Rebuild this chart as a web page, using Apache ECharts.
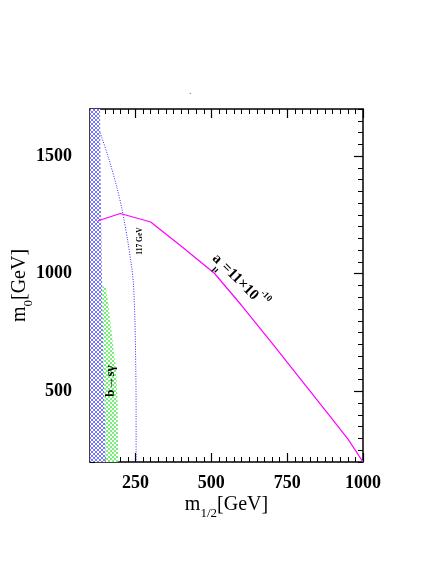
<!DOCTYPE html>
<html>
<head>
<meta charset="utf-8">
<script src="https://cdn.jsdelivr.net/npm/echarts@6/dist/echarts.min.js"></script>
<style>html,body{margin:0;padding:0;background:#fff}#c{width:436px;height:564px}</style>
</head>
<body>
<div id="c"></div>
<script>
// ---- data ----
const xRange = [100, 1000];
const yRange = [200, 1700];
const xMajor = [250, 500, 750, 1000];
const yMajor = [500, 1000, 1500];
// excluded region (blue hatched): right edge of band starting at m1/2 = 100
const blueEdge = [[133,1700],[136,1300],[140,950],[145,600],[150,350],[152,200]];
// b -> s gamma excluded region (green): right edge
const greenEdge = [[140,948],[152,942],[160,876],[173,731],[186,591],[191,450],[193,200]];
const greenLeft = [[152,200],[150,350],[145,600]];
// m_h = 117 GeV contour (dotted blue)
const higgs = [[108,1700],[122,1640],[140,1575],[160,1497],[188,1370],[206,1271],[224,1143],[237,1030],[243,961],[248,803],[251,591],[252,400],[252,200]];
// a_mu = 11e-10 contour (magenta)
const amu = [[127,1225],[200,1256],[300,1220],[400,1118],[510,1002],[600,865],[700,705],[800,543],[900,380],[950,298],[1000,200]];
// annotations
const noteText = ['117 GeV', '{b|b→sγ}', '{m|a}{s|μ}{m|=11×10}{p|-10}'];
const notePos = [[265,1139],[169,544],[593,968]];

// ---- patterns ----
function makeTile(size, fn){const c=document.createElement('canvas');c.width=c.height=size;const g=c.getContext('2d');g.fillStyle='#ffffff';g.fillRect(0,0,size,size);fn(g);return c;}
const blueTile = makeTile(4, g=>{g.fillStyle='#7878fa';for(let i=0;i<4;i++){g.fillRect(i,i,1,1);g.fillRect(i,3-i,1,1);}});
const greenTile = makeTile(4, g=>{g.fillStyle='#78f078';g.fillRect(0,0,2,2);g.fillRect(2,2,2,2);});

const bluePoly = [[xRange[0],yRange[0]],[xRange[0],yRange[1]]].concat(blueEdge);
const greenPoly = greenEdge.concat(greenLeft);

const FONT = 'Liberation Serif';
const plain = v => String(v);
function polySeries(name, poly, tile){
  return {type:'custom', name, data:[[poly[0][0],poly[0][1]]], clip:true, z:3,
    renderItem:(p,api)=>({type:'polygon', shape:{points:poly.map(q=>api.coord(q))}, style:{fill:{image:tile, repeat:'repeat'}}})};
}
const axCommon = {type:'value', splitLine:{show:false}};
const chart = echarts.init(document.getElementById('c'), null, {renderer:'canvas'});
chart.setOption({
  animation:false,
  backgroundColor:'#fff',
  grid:{left:90, right:73, top:109, bottom:102, containLabel:false, outerBoundsMode:'none'},
  xAxis:[
    Object.assign({}, axCommon, {min:xRange[0], max:xRange[1], interval:25, position:'bottom',
      axisLine:{lineStyle:{color:'#000', width:1.5}}, axisTick:{inside:true, length:5, lineStyle:{color:'#000', width:1}},
      axisLabel:{show:false},
      name:'{m|m}{s|1/2}{m|[GeV]}', nameLocation:'middle', nameGap:28,
      nameTextStyle:{rich:{m:{fontFamily:FONT, fontSize:20, color:'#000', lineHeight:30, verticalAlign:'middle'}, s:{fontFamily:FONT, fontSize:13, color:'#000', lineHeight:18, verticalAlign:'bottom'}}}}),
    Object.assign({}, axCommon, {min:xRange[0], max:xRange[1], position:'bottom',
      axisLine:{show:false}, axisTick:{inside:true, length:9, customValues:xMajor, lineStyle:{color:'#000', width:1.2}},
      axisLabel:{customValues:xMajor, formatter:plain, margin:12, fontFamily:FONT, fontWeight:'bold', fontSize:18, color:'#000'}}),
    Object.assign({}, axCommon, {min:xRange[0], max:xRange[1], interval:25, position:'top',
      axisLine:{lineStyle:{color:'#000', width:1.5}}, axisTick:{inside:true, length:5, lineStyle:{color:'#000', width:1}}, axisLabel:{show:false}}),
    Object.assign({}, axCommon, {min:xRange[0], max:xRange[1], position:'top',
      axisLine:{show:false}, axisTick:{inside:true, length:9, customValues:xMajor, lineStyle:{color:'#000', width:1.2}}, axisLabel:{show:false}})
  ],
  yAxis:[
    Object.assign({}, axCommon, {min:yRange[0], max:yRange[1], interval:50, position:'left',
      axisLine:{lineStyle:{color:'#000', width:1.5}}, axisTick:{inside:true, length:5, lineStyle:{color:'#000', width:1}},
      axisLabel:{show:false},
      name:'{m|m}{s|0}{m|[GeV]}', nameLocation:'middle', nameGap:55, nameRotate:90,
      nameTextStyle:{rich:{m:{fontFamily:FONT, fontSize:20, color:'#000', lineHeight:30, verticalAlign:'middle'}, s:{fontFamily:FONT, fontSize:13, color:'#000', lineHeight:18, verticalAlign:'bottom'}}}}),
    Object.assign({}, axCommon, {min:yRange[0], max:yRange[1], position:'left',
      axisLine:{show:false}, axisTick:{inside:true, length:9, customValues:yMajor, lineStyle:{color:'#000', width:1.2}},
      axisLabel:{customValues:yMajor, formatter:plain, margin:18, fontFamily:FONT, fontWeight:'bold', fontSize:18, color:'#000'}}),
    Object.assign({}, axCommon, {min:yRange[0], max:yRange[1], interval:50, position:'right',
      axisLine:{lineStyle:{color:'#000', width:1.5}}, axisTick:{inside:true, length:5, lineStyle:{color:'#000', width:1}}, axisLabel:{show:false}}),
    Object.assign({}, axCommon, {min:yRange[0], max:yRange[1], position:'right',
      axisLine:{show:false}, axisTick:{inside:true, length:9, customValues:yMajor, lineStyle:{color:'#000', width:1.2}}, axisLabel:{show:false}})
  ],
  graphic:[{type:'text', left:189, top:86, style:{text:'.', font:'10px '+FONT, fill:'#777'}}],
  series:[
    {type:'line', name:'117 GeV', data:higgs, symbol:'none', smooth:0.3, z:2,
      lineStyle:{color:'#2a2aff', width:1, type:[1,1.5]}},
    polySeries('excluded', bluePoly, blueTile),
    polySeries('b→sγ', greenPoly, greenTile),
    {type:'line', name:'a_mu', data:amu, symbol:'none', z:4,
      lineStyle:{color:'#ff00ff', width:1.2}},
    {type:'custom', name:'notes', z:6, clip:false,
      data:notePos.map((p,i)=>[p[0],p[1],i]),
      renderItem:(params, api)=>{
        const i = api.value(2);
        const pt = api.coord([api.value(0), api.value(1)]);
        const rot = [Math.PI/2, Math.PI/2, -Math.PI/4][i];
        const style = [
          {text:noteText[0], font:'bold 7.5px '+FONT, fill:'#000', align:'center', verticalAlign:'middle'},
          {text:noteText[1], align:'center', verticalAlign:'middle', rich:{b:{fontFamily:FONT, fontWeight:'bold', fontSize:13, fill:'#000'}}},
          {text:noteText[2], align:'center', verticalAlign:'middle', rich:{
            m:{fontFamily:FONT, fontWeight:'bold', fontSize:15, fill:'#000', lineHeight:26, verticalAlign:'middle'},
            s:{fontFamily:FONT, fontWeight:'bold', fontSize:9, fill:'#000', lineHeight:18, verticalAlign:'bottom'},
            p:{fontFamily:FONT, fontWeight:'bold', fontSize:9, fill:'#000', lineHeight:14, verticalAlign:'top'}}}
        ][i];
        return {type:'text', x:pt[0], y:pt[1], rotation:rot, style};
      }}
  ]
});
</script>
</body>
</html>
